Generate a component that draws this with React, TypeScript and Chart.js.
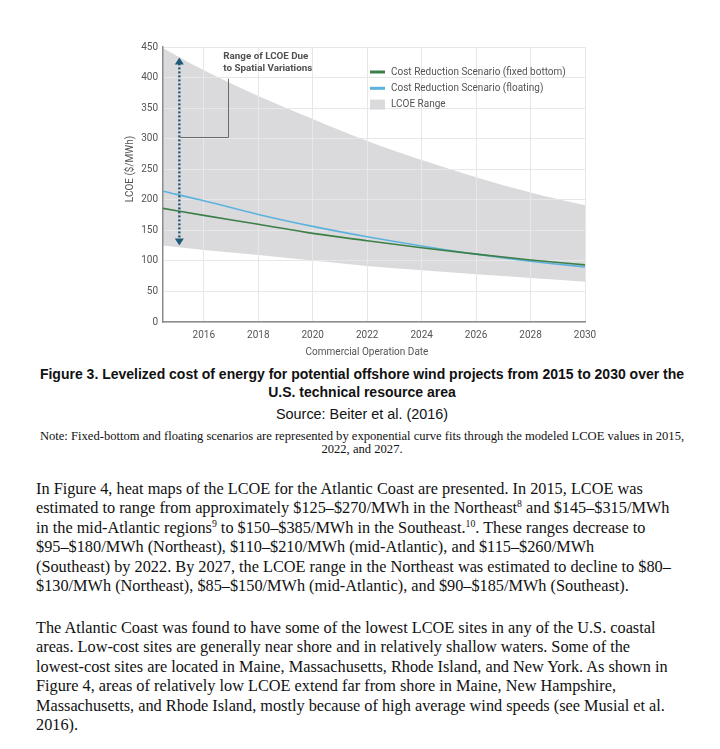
import React, { useEffect, useRef } from "react";
import { Chart, registerables } from "chart.js";

Chart.register(...registerables);

// ---- data ----
const years = [2014.5, 2016, 2018, 2020, 2022, 2024, 2026, 2028, 2030];
const rangeHigh = [448, 412, 370, 332, 296, 265, 237, 212, 191];
const rangeLow = [125, 118, 109.5, 100.5, 91.5, 84.5, 78, 72, 66];
const fixedBottom = [186, 174.5, 160, 145, 133, 121.5, 111, 101.5, 93.5];
const floating = [214, 198.5, 176, 156.5, 139.5, 124.5, 111, 99.5, 90];
const xTickYears = [2016, 2018, 2020, 2022, 2024, 2026, 2028, 2030];
const yMin = 0;
const yMax = 450;
const yStep = 50;

// annotation values (data space)
const arrowYear = 2015.1;
const arrowTop = 433;
const arrowBottom = 125;
const bracketYear = 2016.9;
const bracketLow = 302;
const bracketHigh = 398;

const seriesLabels = [
  "Cost Reduction Scenario (fixed bottom)",
  "Cost Reduction Scenario (floating)",
  "LCOE Range",
];
const annotationLines = ["Range of LCOE Due", "to Spatial Variations"];
const xTitle = "Commercial Operation Date";
const yTitle = "LCOE ($/MWh)";

const GREEN = "#3c7f47";
const BLUE = "#5cb2de";
const GRAY = "#dadadc";
const ARROW = "#1f5a7a";
const TEXT = "#555555";
const FONT = "Roboto, 'Liberation Sans', sans-serif";

const toPts = (ys: number[]) => years.map((x, i) => ({ x, y: ys[i] }));

function LcoeChart() {
  const ref = useRef<HTMLCanvasElement>(null);
  useEffect(() => {
    if (!ref.current) return;
    const overlay = {
      id: "overlay",
      afterDraw(chart: any) {
        const { ctx, chartArea, scales } = chart;
        const xs = scales.x;
        const ys = scales.y;
        ctx.save();
        // dotted double arrow
        const ax = xs.getPixelForValue(arrowYear);
        const at = ys.getPixelForValue(arrowTop);
        const ab = ys.getPixelForValue(arrowBottom);
        ctx.strokeStyle = ARROW;
        ctx.fillStyle = ARROW;
        ctx.lineWidth = 2.4;
        ctx.setLineDash([2, 2]);
        ctx.beginPath();
        ctx.moveTo(ax, at + 6);
        ctx.lineTo(ax, ab - 6);
        ctx.stroke();
        ctx.setLineDash([]);
        ctx.beginPath();
        ctx.moveTo(ax, at);
        ctx.lineTo(ax - 4.5, at + 7);
        ctx.lineTo(ax + 4.5, at + 7);
        ctx.closePath();
        ctx.fill();
        ctx.beginPath();
        ctx.moveTo(ax, ab);
        ctx.lineTo(ax - 4.5, ab - 7);
        ctx.lineTo(ax + 4.5, ab - 7);
        ctx.closePath();
        ctx.fill();
        // bracket
        const bx = xs.getPixelForValue(bracketYear);
        const bl = ys.getPixelForValue(bracketLow);
        const bh = ys.getPixelForValue(bracketHigh);
        ctx.strokeStyle = "#6a6a6a";
        ctx.lineWidth = 1;
        ctx.beginPath();
        ctx.moveTo(ax + 1, Math.round(bl) + 0.5);
        ctx.lineTo(Math.round(bx) + 0.5, Math.round(bl) + 0.5);
        ctx.lineTo(Math.round(bx) + 0.5, bh);
        ctx.stroke();
        // annotation text
        ctx.fillStyle = "#505050";
        ctx.font = `bold 9.8px ${FONT}`;
        ctx.textBaseline = "middle";
        ctx.textAlign = "left";
        annotationLines.forEach((t, i) => {
          ctx.fillText(t, bx - 5, chartArea.top + 10 + i * 11.5);
        });
        // legend
        const lx = chartArea.left + 207;
        const ly = chartArea.top + 25;
        ctx.font = `10px ${FONT}`;
        ctx.fillStyle = TEXT;
        seriesLabels.forEach((t, i) => {
          const y = ly + i * 16.3;
          if (i < 2) {
            ctx.strokeStyle = i === 0 ? GREEN : BLUE;
            ctx.lineWidth = 3;
            ctx.beginPath();
            ctx.moveTo(lx, y);
            ctx.lineTo(lx + 15, y);
            ctx.stroke();
          } else {
            ctx.fillStyle = GRAY;
            ctx.fillRect(lx, y - 5, 15, 10);
          }
          ctx.fillStyle = TEXT;
          ctx.fillText(t, lx + 21, y);
        });
        // axis titles
        ctx.font = `10px ${FONT}`;
        ctx.fillStyle = TEXT;
        ctx.textAlign = "center";
        ctx.fillText(xTitle, (chartArea.left + chartArea.right) / 2 - 7, chartArea.bottom + 30);
        ctx.translate(chartArea.left - 33, chartArea.top + 122);
        ctx.rotate(-Math.PI / 2);
        ctx.fillText(yTitle, 0, 0);
        ctx.restore();
      },
    };
    const chart = new Chart(ref.current, {
      type: "line",
      data: {
        datasets: [
          {
            label: seriesLabels[0],
            data: toPts(fixedBottom),
            borderColor: GREEN,
            borderWidth: 1.6,
            pointRadius: 0,
            cubicInterpolationMode: "monotone",
            fill: false,
            order: 0,
          },
          {
            label: seriesLabels[1],
            data: toPts(floating),
            borderColor: BLUE,
            borderWidth: 1.6,
            pointRadius: 0,
            cubicInterpolationMode: "monotone",
            fill: false,
            order: 0,
          },
          {
            label: seriesLabels[2],
            data: toPts(rangeHigh),
            borderWidth: 0,
            borderColor: "rgba(0,0,0,0)",
            backgroundColor: GRAY,
            pointRadius: 0,
            cubicInterpolationMode: "monotone",
            fill: "+1",
            order: 2,
          },
          {
            label: "low",
            data: toPts(rangeLow),
            borderWidth: 0,
            borderColor: "rgba(0,0,0,0)",
            pointRadius: 0,
            cubicInterpolationMode: "monotone",
            fill: false,
            order: 2,
          },
        ],
      },
      options: {
        animation: false,
        responsive: false,
        events: [],
        layout: { padding: { left: 0, top: 47, right: 135, bottom: 0 } },
        plugins: {
          legend: { display: false },
          tooltip: { enabled: false },
          filler: { drawTime: "beforeDraw" },
        } as any,
        scales: {
          x: {
            type: "linear",
            min: 2014.5,
            max: 2030,
            afterBuildTicks: (s: any) => {
              s.ticks = xTickYears.map((v) => ({ value: v }));
            },
            afterFit: (s: any) => {
              s.height = 40;
            },
            grid: { color: "#e7e7e7", drawTicks: false },
            border: { color: "#8c8c8c", width: 1.5 },
            ticks: {
              padding: 7,
              color: TEXT,
              font: { family: FONT, size: 10 },
              callback: (v: any) => String(v),
              maxRotation: 0,
            },
          },
          y: {
            min: yMin,
            max: yMax,
            afterFit: (s: any) => {
              s.width = 163;
            },
            grid: { color: "#e7e7e7", drawTicks: false },
            border: { color: "#8c8c8c", width: 1.5 },
            ticks: {
              stepSize: yStep,
              padding: 5,
              color: TEXT,
              font: { family: FONT, size: 10 },
            },
          },
        },
      },
      plugins: [overlay],
    });
    return () => chart.destroy();
  }, []);
  return (
    <canvas
      ref={ref}
      width={720}
      height={362}
      style={{ display: "block", width: 720, height: 362 }}
    />
  );
}

const serif = "'Liberation Serif', 'Times New Roman', serif";
const sans = "'Liberation Sans', Arial, sans-serif";

function Sup({ children }: { children: React.ReactNode }) {
  return (
    <span style={{ fontSize: "0.6em", position: "relative", top: "-0.62em", lineHeight: 0 }}>
      {children}
    </span>
  );
}

const p1: React.ReactNode[] = [
  "In Figure 4, heat maps of the LCOE for the Atlantic Coast are presented. In 2015, LCOE was",
  <>
    estimated to range from approximately $125–$270/MWh in the Northeast<Sup>8</Sup> and $145–$315/MWh
  </>,
  <>
    in the mid-Atlantic regions<Sup>9</Sup> to $150–$385/MWh in the Southeast.<Sup>10</Sup>. These ranges decrease to
  </>,
  "$95–$180/MWh (Northeast), $110–$210/MWh (mid-Atlantic), and $115–$260/MWh",
  "(Southeast) by 2022. By 2027, the LCOE range in the Northeast was estimated to decline to $80–",
  "$130/MWh (Northeast), $85–$150/MWh (mid-Atlantic), and $90–$185/MWh (Southeast).",
];

const p2: string[] = [
  "The Atlantic Coast was found to have some of the lowest LCOE sites in any of the U.S. coastal",
  "areas. Low-cost sites are generally near shore and in relatively shallow waters. Some of the",
  "lowest-cost sites are located in Maine, Massachusetts, Rhode Island, and New York. As shown in",
  "Figure 4, areas of relatively low LCOE extend far from shore in Maine, New Hampshire,",
  "Massachusetts, and Rhode Island, mostly because of high average wind speeds (see Musial et al.",
  "2016).",
];

function Lines({ lines, top, size, lh }: { lines: React.ReactNode[]; top: number; size: number; lh: number }) {
  return (
    <div
      style={{
        position: "absolute",
        left: 36,
        top,
        fontFamily: serif,
        fontSize: size,
        lineHeight: `${lh}px`,
        color: "#111",
        whiteSpace: "nowrap",
      }}
    >
      {lines.map((l, i) => (
        <div key={i} style={{ height: lh, overflow: "visible" }}>
          {l}
        </div>
      ))}
    </div>
  );
}

export default function App() {
  return (
    <div style={{ position: "absolute", left: 0, top: 0, width: 720, height: 749, background: "#fff", overflow: "hidden" }}>
      <LcoeChart />
      <div
        style={{
          position: "absolute",
          left: 2,
          top: 366,
          width: 720,
          textAlign: "center",
          fontFamily: sans,
          fontWeight: "bold",
          fontSize: 14,
          lineHeight: "17.5px",
          color: "#111",
        }}
      >
        <div>Figure 3. Levelized cost of energy for potential offshore wind projects from 2015 to 2030 over the</div>
        <div>U.S. technical resource area</div>
      </div>
      <div
        style={{
          position: "absolute",
          left: 2,
          top: 405,
          width: 720,
          textAlign: "center",
          fontFamily: sans,
          fontSize: 14.4,
          lineHeight: "18px",
          color: "#111",
        }}
      >
        Source: Beiter et al. (2016)
      </div>
      <div
        style={{
          position: "absolute",
          left: 2,
          top: 430,
          width: 720,
          textAlign: "center",
          fontFamily: serif,
          fontSize: 12.6,
          lineHeight: "13px",
          color: "#111",
        }}
      >
        <div>
          Note: Fixed-bottom and floating scenarios are represented by exponential curve fits through the modeled LCOE values in 2015,
        </div>
        <div>2022, and 2027.</div>
      </div>
      <Lines lines={p1} top={479} size={16.3} lh={19.4} />
      <Lines lines={p2} top={618} size={16.3} lh={19.4} />
    </div>
  );
}
